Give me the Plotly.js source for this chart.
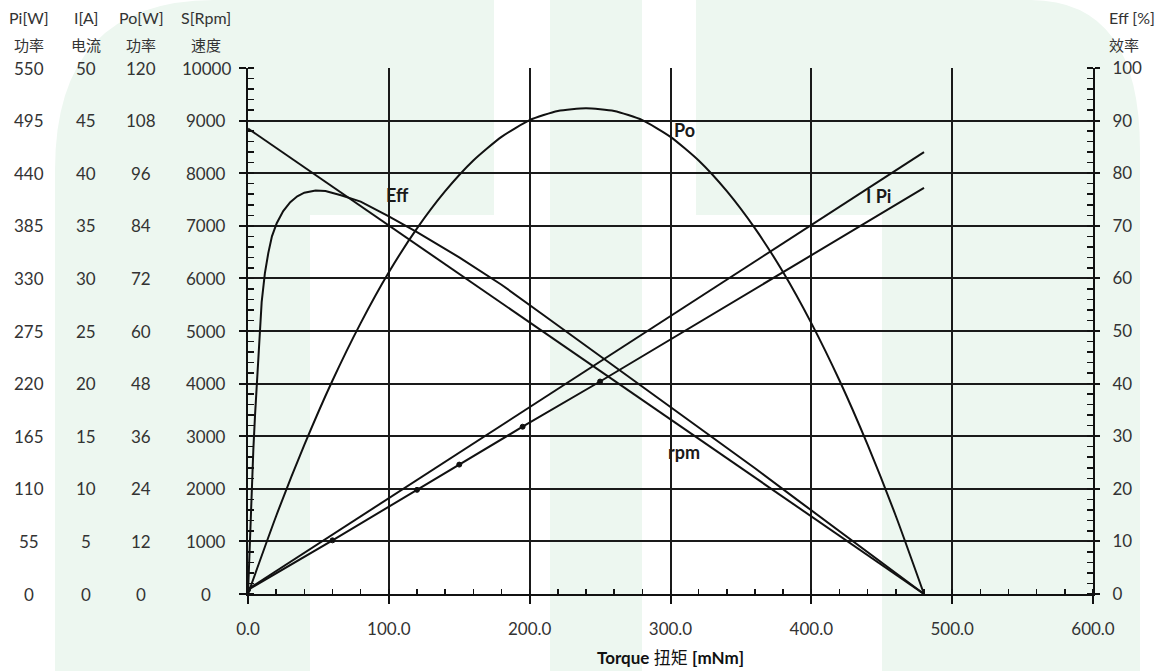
<!DOCTYPE html>
<html>
<head>
<meta charset="utf-8">
<script src="https://cdn.plot.ly/plotly-3.0.1.min.js"></script>
<style>html,body{margin:0;padding:0;background:#fff;}#chart{width:1166px;height:671px;}</style>
</head>
<body>
<div id="chart"></div>
<script>
// ---------- data ----------
const rpmTorque = [0, 480];
const rpmValues = [8850, 0];

const poTorque = [0, 20, 40, 60, 80, 100, 120, 140, 160, 180, 200, 220, 240, 260, 280, 300, 320, 340, 360, 380, 400, 420, 440, 460, 480];
const poValues = [0, 17.8, 34.0, 48.7, 61.8, 73.4, 83.4, 91.9, 98.9, 104.3, 108.1, 110.2, 110.8, 110.2, 108.1, 104.3, 98.9, 91.9, 83.4, 73.4, 61.8, 48.7, 34.0, 17.8, 0];

const effTorque = [0, 1.4, 2.5, 3.8, 5, 6.2, 8, 9.7, 12, 14.4, 17, 20.4, 25, 30, 35, 40, 48, 55, 66, 80, 100, 120, 150, 180, 210, 240, 270, 300, 330, 360, 390, 420, 450, 480];
const effValues = [0, 11.5, 20, 27.5, 34, 40, 48, 55.5, 61, 64.8, 68, 70.5, 72.8, 74.5, 75.6, 76.3, 76.7, 76.6, 75.8, 74.6, 71.8, 68.8, 64, 58.8, 53, 47.2, 41.4, 35.6, 29.8, 23.9, 17.9, 11.95, 6, 0];

const currentTorque = [0, 60, 120, 150, 195, 250, 480];
const currentValues = [0.4, 5.1, 9.9, 12.3, 15.9, 20.2, 38.6];
// measured points marked with dots on the current line
const currentDotTorque = [0, 60, 120, 150, 195, 250];
const currentDotValues = [0.4, 5.1, 9.9, 12.3, 15.9, 20.2];

const powerInTorque = [0, 480];
const powerInValues = [5, 462];

// tick labels
const torqueTicks = [0, 100, 200, 300, 400, 500, 600];
const piTicks = [0, 55, 110, 165, 220, 275, 330, 385, 440, 495, 550];
const iTicks = [0, 5, 10, 15, 20, 25, 30, 35, 40, 45, 50];
const poTicks = [0, 12, 24, 36, 48, 60, 72, 84, 96, 108, 120];
const speedTicks = [0, 1000, 2000, 3000, 4000, 5000, 6000, 7000, 8000, 9000, 10000];
const effTicks = [0, 10, 20, 30, 40, 50, 60, 70, 80, 90, 100];

// column headers
const headerUnits = ['Pi[W]', 'I[A]', 'Po[W]', 'S[Rpm]'];
const headerNames = ['功率', '电流', '功率', '速度'];
const effHeaderUnit = 'Eff [%]';
const effHeaderName = '效率';
const curveLabels = ['Eff', 'Po', 'I Pi', 'rpm'];
const xTitle = '<b>Torque</b> 扭矩 <b>[mNm]</b>';

// ---------- layout geometry (pixels) ----------
const W = 1166, H = 671;
const PL = 248, PR = 1093, PT = 68, PB = 594;
const px = x => (x - PL) / (PR - PL);
const py = y => (PB - y) / (PB - PT);

const ink = '#111111';
const txt = '#333333';
const green = '#edf7f0';

const lineStyle = {color: ink, width: 2};

const traces = [
  {x: rpmTorque, y: rpmValues, yaxis: 'y', mode: 'lines', line: lineStyle, name: 'rpm', hoverinfo: 'skip'},
  {x: effTorque, y: effValues, yaxis: 'y2', mode: 'lines', line: lineStyle, name: 'Eff', hoverinfo: 'skip'},
  {x: poTorque, y: poValues, yaxis: 'y3', mode: 'lines', line: Object.assign({shape: 'spline', smoothing: 0.6}, lineStyle), name: 'Po', hoverinfo: 'skip'},
  {x: currentTorque, y: currentValues, yaxis: 'y4', mode: 'lines', line: lineStyle, name: 'I', hoverinfo: 'skip'},
  {x: currentDotTorque, y: currentDotValues, yaxis: 'y4', mode: 'markers',
   marker: {color: ink, size: 5, symbol: 'circle', opacity: 1, line: {color: ink, width: 1}}, name: 'I points', hoverinfo: 'skip'},
  {x: powerInTorque, y: powerInValues, yaxis: 'y5', mode: 'lines', line: lineStyle, name: 'Pi', hoverinfo: 'skip'}
];

// left tick-label columns (centered), each mapped through its own axis
const columnCenters = [29, 86, 141, 206];
const columnAxes = ['y5', 'y4', 'y3', 'y'];
const columnTicks = [piTicks, iTicks, poTicks, speedTicks];
const annotations = [];
columnTicks.forEach((ticks, c) => {
  ticks.forEach(v => {
    annotations.push({xref: 'paper', yref: columnAxes[c], x: px(columnCenters[c]), y: v,
      text: String(v), showarrow: false, xanchor: 'center', yanchor: 'middle',
      font: {size: 17, color: txt}});
  });
  annotations.push({xref: 'paper', yref: 'paper', x: px(columnCenters[c]), y: py(18),
    text: headerUnits[c], showarrow: false, xanchor: 'center', yanchor: 'middle', font: {size: 16, color: txt}});
  annotations.push({xref: 'paper', yref: 'paper', x: px(columnCenters[c]), y: py(44),
    text: headerNames[c], showarrow: false, xanchor: 'center', yanchor: 'middle',
    font: {size: 15, color: txt, family: '"Noto Sans CJK SC", sans-serif'}});
});
annotations.push({xref: 'paper', yref: 'paper', x: px(1107), y: py(18), text: effHeaderUnit,
  showarrow: false, xanchor: 'left', yanchor: 'middle', font: {size: 16, color: txt}});
annotations.push({xref: 'paper', yref: 'paper', x: px(1107), y: py(44), text: effHeaderName,
  showarrow: false, xanchor: 'left', yanchor: 'middle',
  font: {size: 15, color: txt, family: '"Noto Sans CJK SC", sans-serif'}});

// curve labels
const labelPos = [[397, 195], [684, 130], [878, 196], [684, 452]];
curveLabels.forEach((t, i) => {
  annotations.push({xref: 'paper', yref: 'paper', x: px(labelPos[i][0]), y: py(labelPos[i][1]),
    text: '<b>' + t + '</b>', showarrow: false, xanchor: 'center', yanchor: 'middle',
    font: {size: 18, color: '#1a1a1a'}});
});

// faint green watermark shapes
function pathFromPx(cmds) {
  return cmds.map(c => {
    if (c[0] === 'Z') return 'Z';
    const pts = [];
    for (let k = 1; k < c.length; k += 2) pts.push(px(c[k]).toFixed(5) + ',' + py(c[k + 1]).toFixed(5));
    return c[0] + pts.join(' ');
  }).join(' ');
}
const shapes = [
  {type: 'path', xref: 'paper', yref: 'paper', layer: 'below', fillcolor: green, line: {width: 0},
   path: pathFromPx([['M', 55, 671], ['L', 55, 170], ['Q', 55, 0, 215, 0], ['L', 494, 0], ['L', 494, 215], ['L', 310, 215], ['L', 310, 671], ['Z']])},
  {type: 'path', xref: 'paper', yref: 'paper', layer: 'below', fillcolor: green, line: {width: 0},
   path: pathFromPx([['M', 550, 0], ['L', 642, 0], ['L', 642, 671], ['L', 550, 671], ['Z']])},
  {type: 'path', xref: 'paper', yref: 'paper', layer: 'below', fillcolor: green, line: {width: 0},
   path: pathFromPx([['M', 696, 0], ['L', 1030, 0], ['Q', 1140, 0, 1140, 150], ['L', 1140, 671], ['L', 882, 671], ['L', 882, 215], ['L', 696, 215], ['Z']])}
];

const gridStyle = {showgrid: true, gridcolor: '#1a1a1a', gridwidth: 2};

const layout = {
  width: W, height: H,
  margin: {l: PL, r: W - PR, t: PT, b: H - PB, pad: 0},
  paper_bgcolor: '#ffffff', plot_bgcolor: 'rgba(0,0,0,0)',
  showlegend: false,
  font: {family: 'Lato, "Noto Sans CJK SC", sans-serif', size: 16, color: txt},
  xaxis: Object.assign({
    range: [0, 600], tickvals: torqueTicks, tickformat: '.1f',
    ticks: 'outside', ticklen: 8, tickwidth: 2, tickcolor: ink,
    showline: true, linecolor: ink, linewidth: 2, zeroline: false,
    ticklabelstandoff: 11, tickfont: {size: 17, color: txt},
    minor: {dtick: 20, ticks: 'inside', ticklen: 5, tickwidth: 1.5, tickcolor: ink, showgrid: false},
    title: {text: xTitle, font: {size: 17, color: '#111'}, standoff: 14},
    fixedrange: true
  }, gridStyle),
  yaxis: Object.assign({
    range: [0, 10000], tickvals: speedTicks, showticklabels: false,
    ticks: 'outside', ticklen: 7, tickwidth: 2, tickcolor: ink,
    showline: true, linecolor: ink, linewidth: 2, zeroline: false,
    minor: {dtick: 200, ticks: 'inside', ticklen: 6, tickwidth: 1.5, tickcolor: ink, showgrid: false},
    fixedrange: true
  }, gridStyle),
  yaxis2: {
    overlaying: 'y', side: 'right', range: [0, 100], tickvals: effTicks,
    ticks: 'outside', ticklen: 5, tickwidth: 2, tickcolor: ink,
    showline: true, linecolor: ink, linewidth: 2, showgrid: false, zeroline: false,
    ticklabelstandoff: 9, tickfont: {size: 17, color: txt},
    minor: {dtick: 2, ticks: 'inside', ticklen: 6, tickwidth: 1.5, tickcolor: ink, showgrid: false},
    fixedrange: true
  },
  yaxis3: {overlaying: 'y', range: [0, 120], visible: false, fixedrange: true},
  yaxis4: {overlaying: 'y', range: [0, 50], visible: false, fixedrange: true},
  yaxis5: {overlaying: 'y', range: [0, 550], visible: false, fixedrange: true},
  annotations: annotations,
  shapes: shapes
};

Plotly.newPlot('chart', traces, layout, {displayModeBar: false, staticPlot: true});
</script>
</body>
</html>
